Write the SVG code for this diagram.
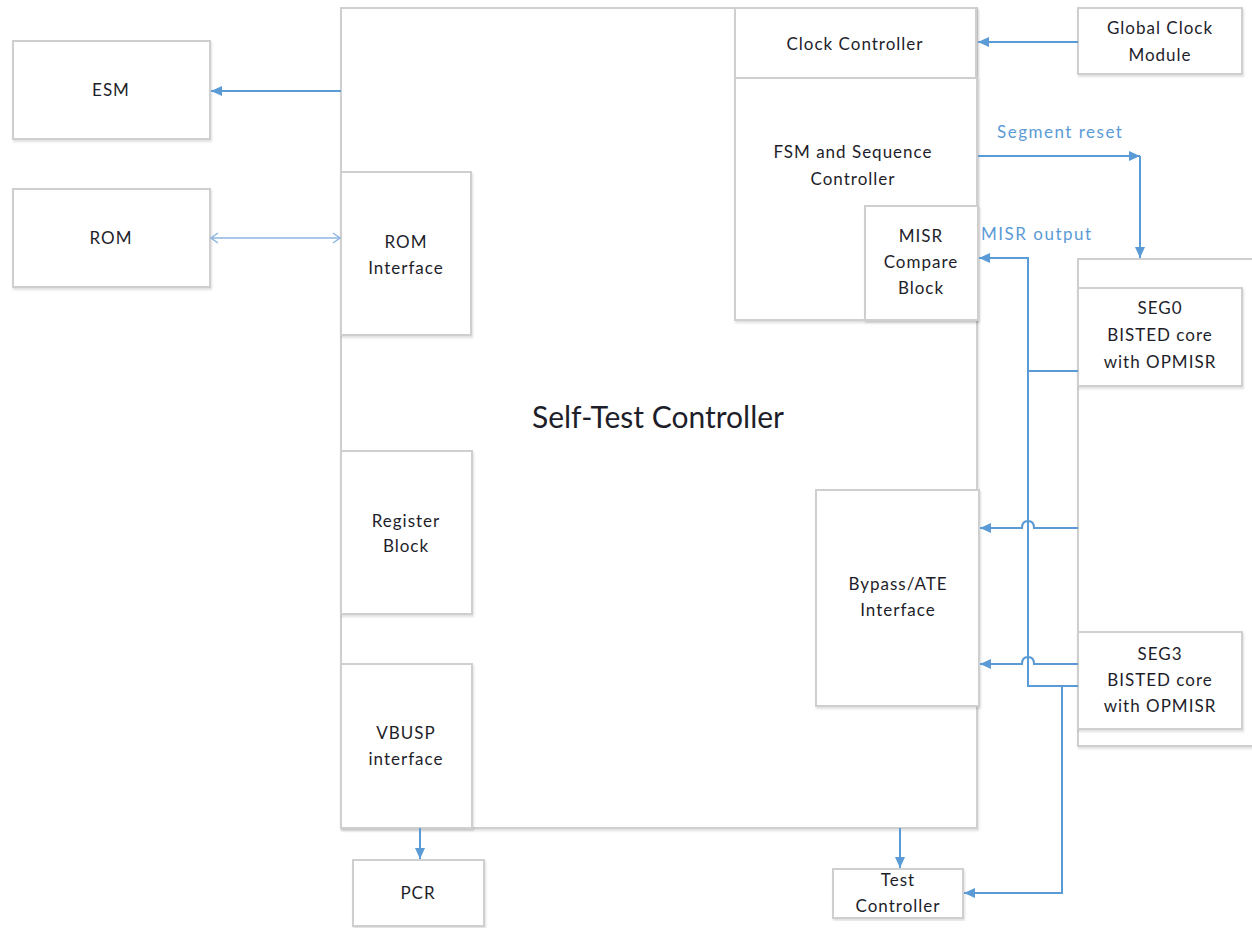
<svg xmlns="http://www.w3.org/2000/svg" width="1252" height="928" viewBox="0 0 1252 928">
<style>
.box{fill:#fff;stroke:#cfcfcf;stroke-width:2;filter:url(#sh)}
.t{font-family:Lato,"Liberation Sans",sans-serif;font-size:17px;letter-spacing:1px;fill:#1e1e2a;text-anchor:middle}
.big{font-size:30px;letter-spacing:0}
.lbl{font-family:Lato,"Liberation Sans",sans-serif;font-size:17px;letter-spacing:1.5px;fill:#5b9bd5}
.c{fill:none;stroke:#5b9bd5;stroke-width:2}
</style>
<defs>
<filter id="sh" x="-5%" y="-5%" width="110%" height="110%">
<feDropShadow dx="1" dy="2" stdDeviation="1" flood-color="#000" flood-opacity="0.12"/>
</filter>
<marker id="a" markerWidth="12" markerHeight="10" refX="11" refY="5" orient="auto" markerUnits="userSpaceOnUse">
<path d="M0,0 L11,5 L0,10 Z" fill="#5b9bd5"/>
</marker>
<marker id="o" markerWidth="12" markerHeight="12" refX="10" refY="6" orient="auto-start-reverse" markerUnits="userSpaceOnUse">
<path d="M3,1 L10,6 L3,11" fill="none" stroke="#8db5e0" stroke-width="1.5"/>
</marker>
</defs>

<g id="self-test-controller">
<rect class="box" x="341" y="8" width="636" height="820"/>
<text class="t big" x="658" y="428">Self-Test Controller</text>
</g>
<g id="clock-controller">
<rect class="box" x="735" y="8" width="241" height="70"/>
<text class="t" x="855" y="50">Clock Controller</text>
</g>
<g id="fsm">
<rect class="box" x="735" y="78" width="242" height="242"/>
<text class="t" x="853" y="158">FSM and Sequence</text>
<text class="t" x="853" y="185">Controller</text>
</g>
<g id="misr-compare">
<rect class="box" x="865" y="206" width="113" height="114"/>
<text class="t" x="921" y="242">MISR</text>
<text class="t" x="921" y="268">Compare</text>
<text class="t" x="921" y="294">Block</text>
</g>
<g id="rom-interface">
<rect class="box" x="341" y="172" width="130" height="163"/>
<text class="t" x="406" y="248">ROM</text>
<text class="t" x="406" y="274">Interface</text>
</g>
<g id="register-block">
<rect class="box" x="341" y="451" width="131" height="163"/>
<text class="t" x="406" y="527">Register</text>
<text class="t" x="406" y="552">Block</text>
</g>
<g id="vbusp-interface">
<rect class="box" x="341" y="664" width="131" height="164"/>
<text class="t" x="406" y="739">VBUSP</text>
<text class="t" x="406" y="765">interface</text>
</g>
<g id="bypass-ate">
<rect class="box" x="816" y="490" width="163" height="216"/>
<text class="t" x="898" y="590">Bypass/ATE</text>
<text class="t" x="898" y="616">Interface</text>
</g>
<g id="esm">
<rect class="box" x="13" y="41" width="197" height="98"/>
<text class="t" x="111" y="96">ESM</text>
</g>
<g id="rom">
<rect class="box" x="13" y="189" width="197" height="98"/>
<text class="t" x="111" y="244">ROM</text>
</g>
<g id="global-clock">
<rect class="box" x="1078" y="8" width="164" height="66"/>
<text class="t" x="1160" y="34">Global Clock</text>
<text class="t" x="1160" y="61">Module</text>
</g>
<g id="seg-group">
<rect class="box" x="1078" y="259" width="180" height="487"/>
</g>
<g id="seg0">
<rect class="box" x="1078" y="288" width="164" height="98"/>
<text class="t" x="1160" y="314">SEG0</text>
<text class="t" x="1160" y="341">BISTED core</text>
<text class="t" x="1160" y="368">with OPMISR</text>
</g>
<g id="seg3">
<rect class="box" x="1078" y="632" width="164" height="97"/>
<text class="t" x="1160" y="660">SEG3</text>
<text class="t" x="1160" y="686">BISTED core</text>
<text class="t" x="1160" y="712">with OPMISR</text>
</g>
<g id="pcr">
<rect class="box" x="353" y="860" width="131" height="66"/>
<text class="t" x="418" y="899">PCR</text>
</g>
<g id="test-controller">
<rect class="box" x="833" y="869" width="130" height="49"/>
<text class="t" x="898" y="886">Test</text>
<text class="t" x="898" y="912">Controller</text>
</g>

<g id="connectors">
<path class="c" d="M1078,42 L978,42" marker-end="url(#a)"/>
<path class="c" d="M341,91 L211,91" marker-end="url(#a)"/>
<path class="c" style="stroke:#8db5e0;stroke-width:1.5" d="M211,238 L340,238" marker-start="url(#o)" marker-end="url(#o)"/>
<path class="c" d="M978,156 L1140,156" marker-end="url(#a)"/>
<path class="c" d="M1140,156 L1140,258" marker-end="url(#a)"/>
<path class="c" d="M1078,371 L1028,371 L1028,258 L979,258" marker-end="url(#a)"/>
<path class="c" d="M1028,371 L1028,686 L1078,686"/>
<path class="c" d="M1078,528 L1034,528 Q1034,521 1028,521 Q1022,521 1022,528 L980,528" marker-end="url(#a)"/>
<path class="c" d="M1078,664 L1034,664 Q1034,657 1028,657 Q1022,657 1022,664 L980,664" marker-end="url(#a)"/>
<path class="c" d="M1062,686 L1062,893 L964,893" marker-end="url(#a)"/>
<path class="c" d="M420,828 L420,859" marker-end="url(#a)"/>
<path class="c" d="M900,828 L900,868" marker-end="url(#a)"/>
<text class="lbl" x="997" y="138">Segment reset</text>
<text class="lbl" x="981" y="240">MISR output</text>
</g>
</svg>
